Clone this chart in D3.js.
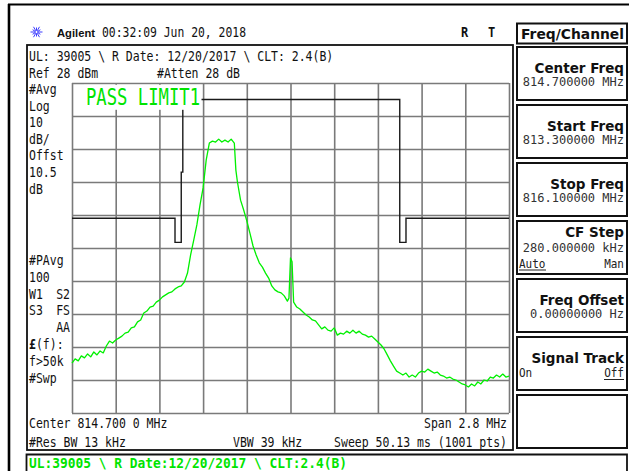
<!DOCTYPE html>
<html><head><meta charset="utf-8">
<script src="https://cdn.jsdelivr.net/npm/d3@7"></script>
<style>html,body{margin:0;padding:0;background:#fff;overflow:hidden}</style>
</head><body><svg id="c" width="629" height="471"></svg>
<script>
// ---------- data ----------
const traceFreqs = [813.30,813.32,813.34,813.36,813.38,813.40,813.42,813.44,813.46,813.48,813.50,813.52,813.54,813.56,813.58,813.60,813.62,813.64,813.66,813.68,813.70,813.72,813.74,813.76,813.78,813.80,813.82,813.84,813.86,813.88,813.90,813.92,813.94,813.96,813.98,814.00,814.02,814.04,814.06,814.08,814.10,814.12,814.14,814.16,814.18,814.20,814.22,814.24,814.26,814.28,814.30,814.32,814.34,814.35,814.36,814.38,814.40,814.42,814.44,814.46,814.48,814.50,814.52,814.54,814.56,814.58,814.60,814.62,814.64,814.66,814.68,814.69,814.70,814.71,814.72,814.74,814.76,814.78,814.80,814.82,814.84,814.86,814.88,814.90,814.92,814.94,814.96,814.98,815.00,815.02,815.04,815.06,815.08,815.10,815.12,815.14,815.16,815.18,815.20,815.22,815.24,815.26,815.28,815.30,815.32,815.34,815.36,815.38,815.40,815.42,815.44,815.46,815.48,815.50,815.52,815.54,815.56,815.58,815.60,815.62,815.64,815.66,815.68,815.70,815.72,815.74,815.76,815.78,815.80,815.82,815.84,815.86,815.88,815.90,815.92,815.94,815.96,815.98,816.00,816.02,816.04,816.06,816.08,816.10];
const traceLevels = [-56.9,-55.6,-56.2,-54.7,-55.3,-54.1,-55.0,-53.5,-54.4,-53.2,-53.8,-51.7,-50.2,-50.8,-49.9,-49.3,-48.7,-47.8,-47.5,-46.2,-45.9,-44.4,-43.8,-41.7,-41.1,-39.9,-39.6,-38.4,-37.8,-36.8,-36.2,-35.6,-35.3,-34.4,-33.8,-33.5,-32.3,-29.6,-24.1,-19.6,-15.0,-9.0,-3.8,4.7,9.8,10.4,10.1,11.0,10.1,10.7,10.1,11.0,9.8,1.6,-2.0,-7.5,-10.5,-13.8,-17.5,-21.4,-24.1,-26.5,-27.8,-29.6,-31.1,-33.5,-34.7,-35.3,-35.6,-36.5,-38.1,-37.2,-25.0,-26.2,-38.4,-39.9,-40.5,-41.4,-42.3,-42.9,-43.8,-44.1,-45.3,-46.5,-45.9,-46.9,-47.2,-46.2,-48.4,-47.8,-48.1,-47.2,-47.8,-46.9,-47.8,-47.2,-48.1,-48.4,-49.0,-48.7,-49.6,-50.5,-51.4,-52.6,-54.4,-56.2,-57.8,-59.3,-59.9,-60.5,-59.9,-61.1,-60.5,-61.1,-59.9,-59.3,-59.6,-58.7,-59.3,-59.9,-59.6,-60.5,-60.8,-61.4,-61.1,-61.7,-62.0,-62.6,-63.2,-63.5,-64.1,-63.2,-63.8,-62.6,-63.2,-62.0,-62.3,-61.1,-61.4,-60.5,-61.1,-60.2,-61.1,-60.8];

const limitFreqs  = [813.30,813.96,813.96,814.00,814.00,814.01,814.01,815.40,815.40,815.44,815.44,816.10];
const limitLevels = [-13,-13,-20.3,-20.3,1,1,23,23,-20.3,-20.3,-13,-13];

const freqTicks  = [813.30,813.58,813.86,814.14,814.42,814.70,814.98,815.26,815.54,815.82,816.10];
const levelTicks = [28,18,8,-2,-12,-22,-32,-42,-52,-62,-72];

const leftLabelsTop = ["#Avg","Log","10","dB/","Offst","10.5","dB"];
const softkeyTitles = ["Center Freq","Start Freq","Stop Freq","CF Step","Freq Offset","Signal Track",""];
const softkeyValues = ["814.700000 MHz","813.300000 MHz","816.100000 MHz","280.000000 kHz","0.00000000  Hz","",""];

// ---------- setup ----------
const MONO = "'DejaVu Sans Mono','Liberation Mono',monospace";
const SANSB = "'DejaVu Sans',Verdana,sans-serif";
const ARIAL = "'Liberation Sans',Arial,sans-serif";
const GREEN = "#00e400";
const svg = d3.select("#c");

function T(s, x, y, o = {}) {
  const t = svg.append("text")
    .attr("transform", `translate(${x},${y}) scale(1,${o.sy || 1.2})`)
    .attr("font-family", o.ff || MONO)
    .attr("font-size", o.fs || 11.5)
    .attr("font-weight", o.fw || "normal")
    .attr("fill", o.fill || "#111")
    .attr("text-anchor", o.anchor || "start")
    .text(s);
  if (o.tl) t.attr("textLength", o.tl).attr("lengthAdjust", "spacingAndGlyphs");
  return t;
}
function R(x, y, w, h, sw, col) {
  svg.append("rect").attr("x", x).attr("y", y).attr("width", w).attr("height", h)
    .attr("fill", "none").attr("stroke", col || "#111").attr("stroke-width", sw || 2);
}

// outer frame lines
svg.append("line").attr("x1", 8).attr("x2", 629).attr("y1", 4.5).attr("y2", 4.5).attr("stroke", "#000").attr("stroke-width", 2.2);
svg.append("line").attr("x1", 9).attr("x2", 9).attr("y1", 4).attr("y2", 471).attr("stroke", "#000").attr("stroke-width", 2.6);

// header
const star = svg.append("g").attr("transform", "translate(36.5,32)");
for (let i = 0; i < 12; i++) {
  const a = i * Math.PI / 6;
  star.append("line").attr("x1", Math.cos(a) * 1.8).attr("y1", Math.sin(a) * 1.8)
    .attr("x2", Math.cos(a) * (i % 2 ? 4.5 : 6)).attr("y2", Math.sin(a) * (i % 2 ? 4.5 : 6))
    .attr("stroke", "#3c3cff").attr("stroke-width", 1);
}
star.append("circle").attr("r", 1.6).attr("fill", "none").attr("stroke", "#3c3cff").attr("stroke-width", 1);
T("Agilent", 57, 37, { ff: ARIAL, fw: "bold", fs: 11.5, sy: 1, tl: 38 });
T("00:32:09  Jun 20, 2018", 102, 37, { tl: 144 });
T("R", 461, 37, { fw: "bold", fs: 12, sy: 1.15 });
T("T", 488, 37, { fw: "bold", fs: 12, sy: 1.15 });

// Freq/Channel box
R(517, 23.5, 110, 20, 2);
T("Freq/Channel", 521, 39, { ff: SANSB, fw: "bold", fs: 13.5, sy: 1, tl: 103 });

// softkeys
softkeyTitles.forEach((title, i) => {
  const top = 47 + i * 58;
  R(517, top, 110, 53, 2);
  if (!title) return;
  const three = i === 3;
  T(title, 624, top + (three ? 16 : 26), { ff: SANSB, fw: "bold", fs: 13.5, sy: 1, anchor: "end" });
  if (softkeyValues[i]) T(softkeyValues[i], 624, top + (three ? 30.5 : 38.5), { fs: 12, sy: 1, fill: "#333", anchor: "end" });
  if (three) {
    T("Auto", 519, top + 46.5, { fs: 11, sy: 1.15, fill: "#222" });
    T("Man", 624, top + 46.5, { fs: 11, sy: 1.15, fill: "#222", anchor: "end" });
    svg.append("line").attr("x1", 519).attr("x2", 546).attr("y1", top + 49).attr("y2", top + 49).attr("stroke", "#222");
  }
  if (i === 5) {
    T("On", 519, top + 40, { fs: 11, sy: 1.15, fill: "#222" });
    T("Off", 624, top + 40, { fs: 11, sy: 1.15, fill: "#222", anchor: "end" });
    svg.append("line").attr("x1", 604).attr("x2", 624).attr("y1", top + 42.5).attr("y2", top + 42.5).attr("stroke", "#222");
  }
});

// main frame
R(27, 45, 486, 405, 1.8);
T("UL: 39005 \\ R Date: 12/20/2017 \\ CLT: 2.4(B)", 29, 61);
T("Ref 28 dBm", 29, 78);
T("#Atten 28 dB", 157, 78);
leftLabelsTop.forEach((s, i) => T(s, 29, 94 + i * 16.6));
const lb = 265, ls = 16.8;
T("#PAvg", 29, lb);
T("100", 29, lb + ls);
T("W1", 29, lb + 2 * ls); T("S2", 70, lb + 2 * ls, { anchor: "end" });
T("S3", 29, lb + 3 * ls); T("FS", 70, lb + 3 * ls, { anchor: "end" });
T("AA", 70, lb + 4 * ls, { anchor: "end" });
const lf = T("", 29, lb + 5 * ls);
lf.append("tspan").attr("font-weight", "bold").text("£");
lf.append("tspan").text("(f):");
T("f>50k", 29, lb + 6 * ls);
T("#Swp", 29, lb + 7 * ls);

T("Center 814.700 0 MHz", 29, 428);
T("Span 2.8 MHz", 507, 428, { anchor: "end" });
T("#Res BW 13 kHz", 29, 446.5);
T("VBW 39 kHz", 233, 446.5);
T("Sweep 50.13 ms (1001 pts)", 507, 446.5, { anchor: "end" });

// bottom green status box
svg.append("path").attr("d", "M26.5,471 V454.5 H627 V471").attr("fill", "none").attr("stroke", "#111").attr("stroke-width", 1.8);
T("UL:39005 \\ R Date:12/20/2017 \\ CLT:2.4(B)", 29, 468, { fw: "bold", fs: 13, sy: 1.05, fill: GREEN, tl: 318 });

// ---------- plot ----------
const x = d3.scaleLinear().domain([813.3, 816.1]).range([72, 509]);
const y = d3.scaleLinear().domain([-72, 28]).range([413, 83]);

const grid = svg.append("g");
grid.append("g").attr("transform", "translate(0,413)")
  .call(d3.axisBottom(x).tickValues(freqTicks).tickSize(-330).tickFormat(""))
  .call(g => g.select(".domain").remove())
  .call(g => g.selectAll("line").attr("stroke", "#7a7a7a").attr("stroke-width", 1.6));
grid.append("g").attr("transform", "translate(72,0)")
  .call(d3.axisLeft(y).tickValues(levelTicks).tickSize(-437).tickFormat(""))
  .call(g => g.select(".domain").remove())
  .call(g => g.selectAll("line").attr("stroke", "#7a7a7a").attr("stroke-width", 1.6));

const limitData = limitFreqs.map((f, i) => [f, limitLevels[i]]);
svg.append("path").datum(limitData)
  .attr("d", d3.line().x(d => x(d[0])).y(d => y(d[1])))
  .attr("fill", "none").attr("stroke", "#1a1a1a").attr("stroke-width", 1.4);

// PASS LIMIT1 label with background
svg.append("rect").attr("x", 84).attr("y", 84.8).attr("width", 117.5).attr("height", 25).attr("fill", "#fff");
T("PASS LIMIT1", 86, 105, { fs: 17.3, sy: 1.35, fill: GREEN, tl: 114 });

const traceData = traceFreqs.map((f, i) => [f, traceLevels[i]]);
svg.append("path").datum(traceData)
  .attr("d", d3.line().x(d => x(d[0])).y(d => y(d[1])))
  .attr("fill", "none").attr("stroke", "#00f000").attr("stroke-width", 1.3)
  .attr("stroke-linejoin", "round");
</script>
</body></html>
